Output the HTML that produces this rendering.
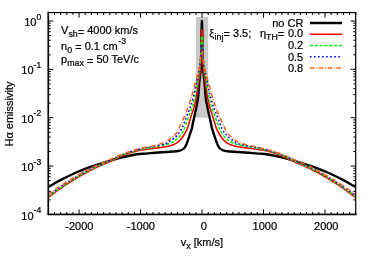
<!DOCTYPE html>
<html><head><meta charset="utf-8"><title>plot</title>
<style>
html,body{margin:0;padding:0;background:#fff;}
body{width:374px;height:262px;overflow:hidden;}
svg{display:block;will-change:transform;}
text{font-family:"Liberation Sans",sans-serif;font-size:11px;fill:#000;white-space:pre;stroke:#000;stroke-width:0.22px;}
</style></head><body>
<svg width="374" height="262" viewBox="0 0 374 262">
<defs><clipPath id="cp"><rect x="48.35" y="12.60" width="307.35" height="201.80"/></clipPath></defs>
<rect width="374" height="262" fill="#fff"/>
<rect x="195.88" y="17" width="12.29" height="100.70" fill="#c8c8c8"/>
<g fill="none" stroke-linejoin="round" clip-path="url(#cp)">
<path d="M48.20 187.00 C50.48 185.73 57.95 181.48 61.90 179.40 C65.85 177.32 67.73 176.37 71.90 174.50 C76.07 172.63 81.90 170.08 86.90 168.20 C91.90 166.32 97.73 164.55 101.90 163.20 C106.07 161.85 108.57 161.08 111.90 160.10 C115.23 159.12 118.57 158.12 121.90 157.30 C125.23 156.48 128.57 155.78 131.90 155.20 C135.23 154.62 138.05 154.20 141.90 153.80 C145.75 153.40 151.03 153.10 155.00 152.80 C158.97 152.50 162.13 152.27 165.70 152.00 C169.27 151.73 173.90 151.48 176.40 151.20 C178.90 150.92 179.45 150.75 180.70 150.30 C181.95 149.85 183.02 149.33 183.90 148.50 C184.78 147.67 185.28 146.82 186.00 145.30 C186.72 143.78 187.48 141.45 188.20 139.40 C188.92 137.35 189.72 134.75 190.30 133.00 C190.88 131.25 191.27 130.57 191.70 128.90 C192.13 127.23 192.43 125.15 192.90 123.00 C193.37 120.85 193.95 118.50 194.50 116.00 C195.05 113.50 195.78 110.00 196.20 108.00 C196.62 106.00 196.72 105.50 197.00 104.00 C197.28 102.50 197.65 100.83 197.90 99.00 C198.15 97.17 198.33 94.83 198.50 93.00 C198.67 91.17 198.77 89.83 198.90 88.00 C199.03 86.17 199.17 83.50 199.30 82.00 C199.43 80.50 199.52 80.50 199.70 79.00 C199.88 77.50 200.17 75.00 200.36 73.00 C200.55 71.00 200.72 69.00 200.84 67.00 C200.96 65.00 201.02 63.00 201.08 61.00 C201.14 59.00 201.16 57.00 201.20 55.00 C201.24 53.00 201.26 51.00 201.29 49.00 C201.32 47.00 201.34 45.00 201.36 43.00 C201.39 41.00 201.42 39.00 201.44 37.00 C201.47 35.00 201.49 33.00 201.53 31.00 C201.58 29.00 201.68 26.67 201.74 25.00 C201.81 23.33 201.87 21.67 201.90 21.00 L201.90 21.00 C201.93 21.67 201.99 23.33 202.06 25.00 C202.12 26.67 202.22 29.00 202.27 31.00 C202.31 33.00 202.33 35.00 202.36 37.00 C202.38 39.00 202.41 41.00 202.44 43.00 C202.46 45.00 202.48 47.00 202.51 49.00 C202.54 51.00 202.56 53.00 202.60 55.00 C202.64 57.00 202.66 59.00 202.72 61.00 C202.78 63.00 202.84 65.00 202.96 67.00 C203.08 69.00 203.25 71.00 203.44 73.00 C203.63 75.00 203.92 77.50 204.10 79.00 C204.28 80.50 204.37 80.50 204.50 82.00 C204.63 83.50 204.77 86.17 204.90 88.00 C205.03 89.83 205.13 91.17 205.30 93.00 C205.47 94.83 205.65 97.17 205.90 99.00 C206.15 100.83 206.52 102.50 206.80 104.00 C207.08 105.50 207.18 106.00 207.60 108.00 C208.02 110.00 208.75 113.50 209.30 116.00 C209.85 118.50 210.43 120.85 210.90 123.00 C211.37 125.15 211.67 127.23 212.10 128.90 C212.53 130.57 212.92 131.25 213.50 133.00 C214.08 134.75 214.88 137.35 215.60 139.40 C216.32 141.45 217.08 143.78 217.80 145.30 C218.52 146.82 219.02 147.67 219.90 148.50 C220.78 149.33 221.85 149.85 223.10 150.30 C224.35 150.75 224.90 150.92 227.40 151.20 C229.90 151.48 234.53 151.73 238.10 152.00 C241.67 152.27 244.83 152.50 248.80 152.80 C252.77 153.10 258.05 153.40 261.90 153.80 C265.75 154.20 268.57 154.62 271.90 155.20 C275.23 155.78 278.57 156.48 281.90 157.30 C285.23 158.12 288.57 159.12 291.90 160.10 C295.23 161.08 297.73 161.85 301.90 163.20 C306.07 164.55 311.90 166.32 316.90 168.20 C321.90 170.08 327.73 172.63 331.90 174.50 C336.07 176.37 337.95 177.32 341.90 179.40 C345.85 181.48 353.32 185.73 355.60 187.00" stroke="#000" stroke-width="2.4"/>
<path d="M48.20 197.60 C51.07 195.53 58.97 189.42 65.40 185.20 C71.83 180.98 79.47 176.20 86.80 172.30 C94.13 168.40 103.30 164.63 109.40 161.80 C115.50 158.97 118.85 157.10 123.40 155.30 C127.95 153.50 132.95 151.98 136.70 151.00 C140.45 150.02 142.85 149.85 145.90 149.40 C148.95 148.95 151.70 148.75 155.00 148.30 C158.30 147.85 162.67 147.28 165.70 146.70 C168.73 146.12 171.07 145.65 173.20 144.80 C175.33 143.95 177.08 142.68 178.50 141.60 C179.92 140.52 180.72 139.55 181.70 138.30 C182.68 137.05 183.48 135.67 184.40 134.10 C185.32 132.53 186.42 130.75 187.20 128.90 C187.98 127.05 188.38 125.32 189.10 123.00 C189.82 120.68 190.70 117.50 191.50 115.00 C192.30 112.50 193.32 109.83 193.90 108.00 C194.48 106.17 194.43 106.50 194.95 104.00 C195.47 101.50 196.39 96.67 197.00 93.00 C197.61 89.33 198.17 84.90 198.60 82.00 C199.03 79.10 199.29 77.67 199.56 75.60 C199.82 73.53 200.02 71.60 200.19 69.60 C200.37 67.60 200.49 65.60 200.61 63.60 C200.73 61.60 200.81 59.60 200.88 57.60 C200.96 55.60 201.01 53.60 201.06 51.60 C201.12 49.60 201.17 47.60 201.21 45.60 C201.26 43.60 201.30 41.60 201.35 39.60 C201.39 37.60 201.39 35.27 201.48 33.60 C201.57 31.93 201.83 30.27 201.90 29.60 L201.90 29.60 C201.97 30.27 202.23 31.93 202.32 33.60 C202.41 35.27 202.41 37.60 202.45 39.60 C202.50 41.60 202.54 43.60 202.59 45.60 C202.63 47.60 202.68 49.60 202.74 51.60 C202.79 53.60 202.84 55.60 202.92 57.60 C202.99 59.60 203.07 61.60 203.19 63.60 C203.31 65.60 203.43 67.60 203.61 69.60 C203.78 71.60 203.98 73.53 204.24 75.60 C204.51 77.67 204.77 79.10 205.20 82.00 C205.63 84.90 206.19 89.33 206.80 93.00 C207.41 96.67 208.33 101.50 208.85 104.00 C209.37 106.50 209.32 106.17 209.90 108.00 C210.48 109.83 211.50 112.50 212.30 115.00 C213.10 117.50 213.98 120.68 214.70 123.00 C215.42 125.32 215.82 127.05 216.60 128.90 C217.38 130.75 218.48 132.53 219.40 134.10 C220.32 135.67 221.12 137.05 222.10 138.30 C223.08 139.55 223.88 140.52 225.30 141.60 C226.72 142.68 228.47 143.95 230.60 144.80 C232.73 145.65 235.07 146.12 238.10 146.70 C241.13 147.28 245.50 147.85 248.80 148.30 C252.10 148.75 254.85 148.95 257.90 149.40 C260.95 149.85 263.35 150.02 267.10 151.00 C270.85 151.98 275.85 153.50 280.40 155.30 C284.95 157.10 288.30 158.97 294.40 161.80 C300.50 164.63 309.67 168.40 317.00 172.30 C324.33 176.20 331.97 180.98 338.40 185.20 C344.83 189.42 352.73 195.53 355.60 197.60" stroke="#ff0000" stroke-width="1.55"/>
<path d="M48.20 196.50 C51.07 194.48 58.97 188.57 65.40 184.40 C71.83 180.23 79.47 175.40 86.80 171.50 C94.13 167.60 103.30 163.80 109.40 161.00 C115.50 158.20 118.85 156.47 123.40 154.70 C127.95 152.93 132.95 151.45 136.70 150.40 C140.45 149.35 142.85 149.00 145.90 148.40 C148.95 147.80 151.70 147.43 155.00 146.80 C158.30 146.17 162.67 145.43 165.70 144.60 C168.73 143.77 171.23 142.85 173.20 141.80 C175.17 140.75 176.17 139.50 177.50 138.30 C178.83 137.10 180.07 136.17 181.20 134.60 C182.33 133.03 183.43 130.83 184.30 128.90 C185.17 126.97 185.57 125.32 186.40 123.00 C187.23 120.68 188.37 117.50 189.30 115.00 C190.23 112.50 191.34 109.83 192.00 108.00 C192.66 106.17 192.63 106.50 193.25 104.00 C193.87 101.50 194.99 96.67 195.70 93.00 C196.41 89.33 197.02 84.80 197.50 82.00 C197.98 79.20 198.28 78.17 198.60 76.20 C198.93 74.23 199.21 72.20 199.46 70.20 C199.70 68.20 199.91 66.20 200.09 64.20 C200.27 62.20 200.42 60.20 200.55 58.20 C200.68 56.20 200.77 54.20 200.87 52.20 C200.97 50.20 201.06 48.20 201.14 46.20 C201.22 44.20 201.22 41.87 201.35 40.20 C201.48 38.53 201.81 36.87 201.90 36.20 L201.90 36.20 C201.99 36.87 202.32 38.53 202.45 40.20 C202.58 41.87 202.58 44.20 202.66 46.20 C202.74 48.20 202.83 50.20 202.93 52.20 C203.03 54.20 203.12 56.20 203.25 58.20 C203.38 60.20 203.53 62.20 203.71 64.20 C203.89 66.20 204.10 68.20 204.34 70.20 C204.59 72.20 204.87 74.23 205.20 76.20 C205.52 78.17 205.82 79.20 206.30 82.00 C206.78 84.80 207.39 89.33 208.10 93.00 C208.81 96.67 209.93 101.50 210.55 104.00 C211.17 106.50 211.14 106.17 211.80 108.00 C212.46 109.83 213.57 112.50 214.50 115.00 C215.43 117.50 216.57 120.68 217.40 123.00 C218.23 125.32 218.63 126.97 219.50 128.90 C220.37 130.83 221.47 133.03 222.60 134.60 C223.73 136.17 224.97 137.10 226.30 138.30 C227.63 139.50 228.63 140.75 230.60 141.80 C232.57 142.85 235.07 143.77 238.10 144.60 C241.13 145.43 245.50 146.17 248.80 146.80 C252.10 147.43 254.85 147.80 257.90 148.40 C260.95 149.00 263.35 149.35 267.10 150.40 C270.85 151.45 275.85 152.93 280.40 154.70 C284.95 156.47 288.30 158.20 294.40 161.00 C300.50 163.80 309.67 167.60 317.00 171.50 C324.33 175.40 331.97 180.23 338.40 184.40 C344.83 188.57 352.73 194.48 355.60 196.50" stroke="#00f000" stroke-width="1.55" stroke-dasharray="3.1 1.73"/>
<path d="M48.20 195.40 C51.07 193.43 58.97 187.70 65.40 183.60 C71.83 179.50 79.47 174.68 86.80 170.80 C94.13 166.92 103.30 163.07 109.40 160.30 C115.50 157.53 118.85 155.93 123.40 154.20 C127.95 152.47 132.95 150.97 136.70 149.90 C140.45 148.83 142.85 148.43 145.90 147.80 C148.95 147.17 151.70 146.78 155.00 146.10 C158.30 145.42 163.03 144.67 165.70 143.70 C168.37 142.73 169.32 141.47 171.00 140.30 C172.68 139.13 174.53 137.83 175.80 136.70 C177.07 135.57 177.62 134.80 178.60 133.50 C179.58 132.20 180.78 130.65 181.70 128.90 C182.62 127.15 183.20 125.32 184.10 123.00 C185.00 120.68 186.12 117.50 187.10 115.00 C188.08 112.50 189.29 109.83 190.00 108.00 C190.71 106.17 190.63 106.50 191.35 104.00 C192.07 101.50 193.44 96.67 194.30 93.00 C195.16 89.33 196.00 84.38 196.50 82.00 C197.00 79.62 196.96 80.25 197.30 78.70 C197.65 77.15 198.19 74.70 198.57 72.70 C198.95 70.70 199.29 68.70 199.58 66.70 C199.87 64.70 200.10 62.70 200.31 60.70 C200.51 58.70 200.67 56.70 200.82 54.70 C200.96 52.70 201.02 50.37 201.20 48.70 C201.38 47.03 201.78 45.37 201.90 44.70 L201.90 44.70 C202.02 45.37 202.42 47.03 202.60 48.70 C202.78 50.37 202.84 52.70 202.98 54.70 C203.13 56.70 203.29 58.70 203.49 60.70 C203.70 62.70 203.93 64.70 204.22 66.70 C204.51 68.70 204.85 70.70 205.23 72.70 C205.61 74.70 206.15 77.15 206.50 78.70 C206.84 80.25 206.80 79.62 207.30 82.00 C207.80 84.38 208.64 89.33 209.50 93.00 C210.36 96.67 211.73 101.50 212.45 104.00 C213.17 106.50 213.09 106.17 213.80 108.00 C214.51 109.83 215.72 112.50 216.70 115.00 C217.68 117.50 218.80 120.68 219.70 123.00 C220.60 125.32 221.18 127.15 222.10 128.90 C223.02 130.65 224.22 132.20 225.20 133.50 C226.18 134.80 226.73 135.57 228.00 136.70 C229.27 137.83 231.12 139.13 232.80 140.30 C234.48 141.47 235.43 142.73 238.10 143.70 C240.77 144.67 245.50 145.42 248.80 146.10 C252.10 146.78 254.85 147.17 257.90 147.80 C260.95 148.43 263.35 148.83 267.10 149.90 C270.85 150.97 275.85 152.47 280.40 154.20 C284.95 155.93 288.30 157.53 294.40 160.30 C300.50 163.07 309.67 166.92 317.00 170.80 C324.33 174.68 331.97 179.50 338.40 183.60 C344.83 187.70 352.73 193.43 355.60 195.40" stroke="#0000ff" stroke-width="1.6" stroke-dasharray="1.65 2.4"/>
<path d="M48.20 194.40 C51.07 192.47 58.97 186.83 65.40 182.80 C71.83 178.77 79.47 174.05 86.80 170.20 C94.13 166.35 103.30 162.43 109.40 159.70 C115.50 156.97 118.85 155.50 123.40 153.80 C127.95 152.10 132.95 150.58 136.70 149.50 C140.45 148.42 142.85 147.98 145.90 147.30 C148.95 146.62 151.70 146.30 155.00 145.40 C158.30 144.50 162.95 143.17 165.70 141.90 C168.45 140.63 169.78 139.20 171.50 137.80 C173.22 136.40 174.82 134.98 176.00 133.50 C177.18 132.02 177.72 130.65 178.60 128.90 C179.48 127.15 180.23 125.32 181.30 123.00 C182.37 120.68 183.93 117.50 185.00 115.00 C186.07 112.50 186.99 109.83 187.70 108.00 C188.41 106.17 188.44 106.50 189.25 104.00 C190.06 101.50 191.51 96.67 192.55 93.00 C193.59 89.33 194.89 84.20 195.50 82.00 C196.11 79.80 195.80 81.17 196.20 79.80 C196.61 78.43 197.41 75.80 197.93 73.80 C198.45 71.80 198.94 69.80 199.34 67.80 C199.74 65.80 200.05 63.80 200.32 61.80 C200.60 59.80 200.74 57.47 201.00 55.80 C201.27 54.13 201.75 52.47 201.90 51.80 L201.90 51.80 C202.05 52.47 202.53 54.13 202.80 55.80 C203.06 57.47 203.20 59.80 203.48 61.80 C203.75 63.80 204.06 65.80 204.46 67.80 C204.86 69.80 205.35 71.80 205.87 73.80 C206.39 75.80 207.19 78.43 207.60 79.80 C208.00 81.17 207.69 79.80 208.30 82.00 C208.91 84.20 210.21 89.33 211.25 93.00 C212.29 96.67 213.74 101.50 214.55 104.00 C215.36 106.50 215.39 106.17 216.10 108.00 C216.81 109.83 217.73 112.50 218.80 115.00 C219.87 117.50 221.43 120.68 222.50 123.00 C223.57 125.32 224.32 127.15 225.20 128.90 C226.08 130.65 226.62 132.02 227.80 133.50 C228.98 134.98 230.58 136.40 232.30 137.80 C234.02 139.20 235.35 140.63 238.10 141.90 C240.85 143.17 245.50 144.50 248.80 145.40 C252.10 146.30 254.85 146.62 257.90 147.30 C260.95 147.98 263.35 148.42 267.10 149.50 C270.85 150.58 275.85 152.10 280.40 153.80 C284.95 155.50 288.30 156.97 294.40 159.70 C300.50 162.43 309.67 166.35 317.00 170.20 C324.33 174.05 331.97 178.77 338.40 182.80 C344.83 186.83 352.73 192.47 355.60 194.40" stroke="#ff6018" stroke-width="1.55" stroke-dasharray="4.8 1.65 0.75 1.57"/>
</g>
<path d="M48.35 214.40 v-2.40 M48.35 12.60 v2.40 M54.50 214.40 v-2.40 M54.50 12.60 v2.40 M60.64 214.40 v-2.40 M60.64 12.60 v2.40 M66.79 214.40 v-2.40 M66.79 12.60 v2.40 M72.94 214.40 v-2.40 M72.94 12.60 v2.40 M79.09 214.40 v-5.00 M79.09 12.60 v5.00 M85.23 214.40 v-2.40 M85.23 12.60 v2.40 M91.38 214.40 v-2.40 M91.38 12.60 v2.40 M97.53 214.40 v-2.40 M97.53 12.60 v2.40 M103.67 214.40 v-2.40 M103.67 12.60 v2.40 M109.82 214.40 v-2.40 M109.82 12.60 v2.40 M115.97 214.40 v-2.40 M115.97 12.60 v2.40 M122.11 214.40 v-2.40 M122.11 12.60 v2.40 M128.26 214.40 v-2.40 M128.26 12.60 v2.40 M134.41 214.40 v-2.40 M134.41 12.60 v2.40 M140.56 214.40 v-5.00 M140.56 12.60 v5.00 M146.70 214.40 v-2.40 M146.70 12.60 v2.40 M152.85 214.40 v-2.40 M152.85 12.60 v2.40 M159.00 214.40 v-2.40 M159.00 12.60 v2.40 M165.14 214.40 v-2.40 M165.14 12.60 v2.40 M171.29 214.40 v-2.40 M171.29 12.60 v2.40 M177.44 214.40 v-2.40 M177.44 12.60 v2.40 M183.58 214.40 v-2.40 M183.58 12.60 v2.40 M189.73 214.40 v-2.40 M189.73 12.60 v2.40 M195.88 214.40 v-2.40 M195.88 12.60 v2.40 M202.03 214.40 v-5.00 M202.03 12.60 v5.00 M208.17 214.40 v-2.40 M208.17 12.60 v2.40 M214.32 214.40 v-2.40 M214.32 12.60 v2.40 M220.47 214.40 v-2.40 M220.47 12.60 v2.40 M226.61 214.40 v-2.40 M226.61 12.60 v2.40 M232.76 214.40 v-2.40 M232.76 12.60 v2.40 M238.91 214.40 v-2.40 M238.91 12.60 v2.40 M245.05 214.40 v-2.40 M245.05 12.60 v2.40 M251.20 214.40 v-2.40 M251.20 12.60 v2.40 M257.35 214.40 v-2.40 M257.35 12.60 v2.40 M263.50 214.40 v-5.00 M263.50 12.60 v5.00 M269.64 214.40 v-2.40 M269.64 12.60 v2.40 M275.79 214.40 v-2.40 M275.79 12.60 v2.40 M281.94 214.40 v-2.40 M281.94 12.60 v2.40 M288.08 214.40 v-2.40 M288.08 12.60 v2.40 M294.23 214.40 v-2.40 M294.23 12.60 v2.40 M300.38 214.40 v-2.40 M300.38 12.60 v2.40 M306.52 214.40 v-2.40 M306.52 12.60 v2.40 M312.67 214.40 v-2.40 M312.67 12.60 v2.40 M318.82 214.40 v-2.40 M318.82 12.60 v2.40 M324.96 214.40 v-5.00 M324.96 12.60 v5.00 M331.11 214.40 v-2.40 M331.11 12.60 v2.40 M337.26 214.40 v-2.40 M337.26 12.60 v2.40 M343.41 214.40 v-2.40 M343.41 12.60 v2.40 M349.55 214.40 v-2.40 M349.55 12.60 v2.40 M355.70 214.40 v-2.40 M355.70 12.60 v2.40 M48.35 21.00 h5.00 M355.70 21.00 h-5.00 M48.35 69.35 h5.00 M355.70 69.35 h-5.00 M48.35 54.80 h2.40 M355.70 54.80 h-2.40 M48.35 46.28 h2.40 M355.70 46.28 h-2.40 M48.35 40.24 h2.40 M355.70 40.24 h-2.40 M48.35 35.55 h2.40 M355.70 35.55 h-2.40 M48.35 31.73 h2.40 M355.70 31.73 h-2.40 M48.35 28.49 h2.40 M355.70 28.49 h-2.40 M48.35 25.69 h2.40 M355.70 25.69 h-2.40 M48.35 23.21 h2.40 M355.70 23.21 h-2.40 M48.35 117.70 h5.00 M355.70 117.70 h-5.00 M48.35 103.15 h2.40 M355.70 103.15 h-2.40 M48.35 94.63 h2.40 M355.70 94.63 h-2.40 M48.35 88.59 h2.40 M355.70 88.59 h-2.40 M48.35 83.90 h2.40 M355.70 83.90 h-2.40 M48.35 80.08 h2.40 M355.70 80.08 h-2.40 M48.35 76.84 h2.40 M355.70 76.84 h-2.40 M48.35 74.04 h2.40 M355.70 74.04 h-2.40 M48.35 71.56 h2.40 M355.70 71.56 h-2.40 M48.35 166.05 h5.00 M355.70 166.05 h-5.00 M48.35 151.50 h2.40 M355.70 151.50 h-2.40 M48.35 142.98 h2.40 M355.70 142.98 h-2.40 M48.35 136.94 h2.40 M355.70 136.94 h-2.40 M48.35 132.25 h2.40 M355.70 132.25 h-2.40 M48.35 128.43 h2.40 M355.70 128.43 h-2.40 M48.35 125.19 h2.40 M355.70 125.19 h-2.40 M48.35 122.39 h2.40 M355.70 122.39 h-2.40 M48.35 119.91 h2.40 M355.70 119.91 h-2.40 M48.35 214.40 h5.00 M355.70 214.40 h-5.00 M48.35 199.85 h2.40 M355.70 199.85 h-2.40 M48.35 191.33 h2.40 M355.70 191.33 h-2.40 M48.35 185.29 h2.40 M355.70 185.29 h-2.40 M48.35 180.60 h2.40 M355.70 180.60 h-2.40 M48.35 176.78 h2.40 M355.70 176.78 h-2.40 M48.35 173.54 h2.40 M355.70 173.54 h-2.40 M48.35 170.74 h2.40 M355.70 170.74 h-2.40 M48.35 168.26 h2.40 M355.70 168.26 h-2.40" stroke="#000" stroke-width="1" fill="none"/>
<rect x="48.35" y="12.60" width="307.35" height="201.80" fill="none" stroke="#000" stroke-width="1.2"/>
<path d="M48.35 12.60 V214.40 H355.70" fill="none" stroke="#000" stroke-width="1.55" stroke-linecap="square"/>
<path d="M309.9 23.00 H342.1" fill="none" stroke="#000" stroke-width="2.4"/>
<path d="M309.9 34.25 H342.1" fill="none" stroke="#ff0000" stroke-width="1.55"/>
<path d="M309.9 45.50 H342.1" fill="none" stroke="#00f000" stroke-width="1.55" stroke-dasharray="3.1 1.73"/>
<path d="M309.9 56.75 H342.1" fill="none" stroke="#0000ff" stroke-width="1.6" stroke-dasharray="1.65 2.4"/>
<path d="M309.9 68.00 H342.1" fill="none" stroke="#ff6018" stroke-width="1.55" stroke-dasharray="4.8 1.65 0.75 1.57"/>
<g xml:space="preserve" style="filter:grayscale(1)">
<text x="41.2" y="26.10" text-anchor="end">10<tspan dy="-6.6" font-size="8.6">0</tspan></text>
<text x="41.2" y="74.45" text-anchor="end">10<tspan dy="-6.6" font-size="8.6">-1</tspan></text>
<text x="41.2" y="122.80" text-anchor="end">10<tspan dy="-6.6" font-size="8.6">-2</tspan></text>
<text x="41.2" y="171.15" text-anchor="end">10<tspan dy="-6.6" font-size="8.6">-3</tspan></text>
<text x="41.2" y="219.50" text-anchor="end">10<tspan dy="-6.6" font-size="8.6">-4</tspan></text>
<text x="79.39" y="230" text-anchor="middle">-2000</text>
<text x="140.86" y="230" text-anchor="middle">-1000</text>
<text x="203.72" y="230" text-anchor="middle">0</text>
<text x="264.80" y="230" text-anchor="middle">1000</text>
<text x="326.26" y="230" text-anchor="middle">2000</text>
<text x="202" y="245.8" text-anchor="middle">v<tspan dy="2.8" font-size="8.8">x</tspan><tspan dy="-2.8"> [km/s]</tspan></text>
<text transform="translate(13,114) rotate(-90)" text-anchor="middle">Hα emissivity</text>
<text x="61.1" y="34.3">V<tspan dy="2.8" font-size="8.8">sh</tspan><tspan dy="-1.6">=</tspan><tspan dy="-1.2"> 4000 km/s</tspan></text>
<text x="61.1" y="49.9">n<tspan dy="2.8" font-size="8.8">0</tspan><tspan dy="-1.6"> =</tspan><tspan dy="-1.2"> 0.1 cm</tspan><tspan dx="0.6"><tspan dy="-5.5" font-size="8.6">-3</tspan></tspan></text>
<text x="61.1" y="63.4">p<tspan dy="2.8" font-size="8.8">max</tspan><tspan dy="-1.6"> =</tspan><tspan dy="-1.2"> 50 TeV/c</tspan></text>
<text x="303.4" y="26.6" text-anchor="end">no CR</text>
<text x="209.3" y="36.9">ξ</text>
<text x="214.6" y="36.9"><tspan dy="2.8" font-size="8.8">inj</tspan><tspan dy="-1.6">=</tspan><tspan dy="-1.2"> 3.5;</tspan></text>
<text x="284.2" y="36.9" text-anchor="end">η<tspan dy="2.8" font-size="8.8">TH</tspan><tspan dy="-1.6">=</tspan></text>
<text x="303.2" y="37.1" text-anchor="end">0.0</text>
<text x="303.2" y="49.20" text-anchor="end">0.2</text>
<text x="303.2" y="60.70" text-anchor="end">0.5</text>
<text x="303.2" y="72.00" text-anchor="end">0.8</text>
</g>
</svg>
</body></html>
